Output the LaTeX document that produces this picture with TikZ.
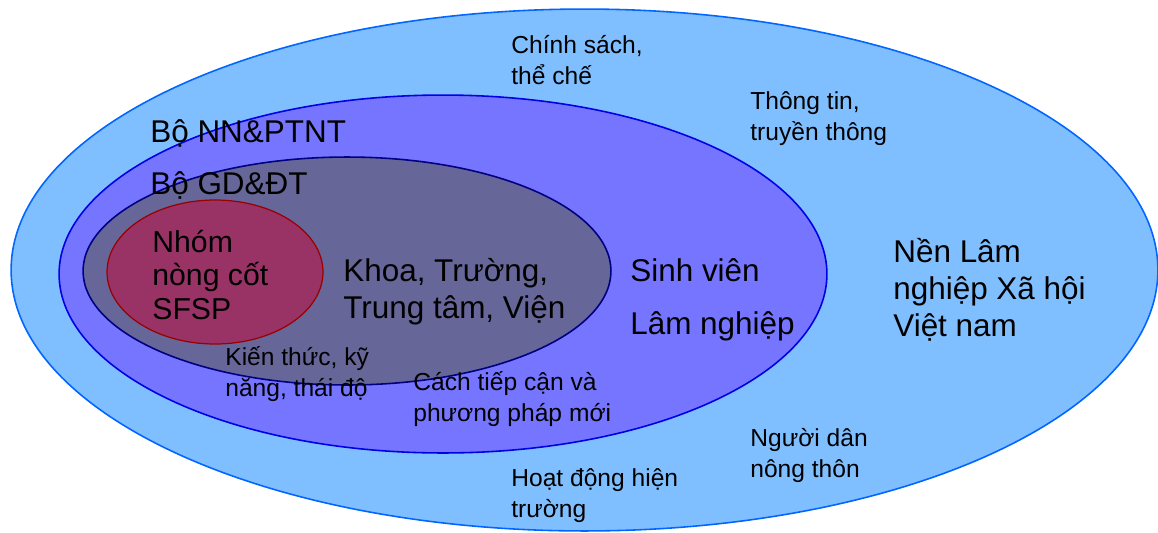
\documentclass[tikz,border=0pt]{standalone}
\usepackage{fontspec}
\setmainfont{Liberation Sans}
\usepackage{tikz}
\usetikzlibrary{positioning}

\definecolor{outerfill}{RGB}{128,191,255}
\definecolor{outerline}{RGB}{0,102,255}
\definecolor{midfill}{RGB}{117,117,255}
\definecolor{midline}{RGB}{0,0,230}
\definecolor{innerfill}{RGB}{102,102,153}
\definecolor{innerline}{RGB}{0,0,128}
\definecolor{corefill}{RGB}{153,51,102}
\definecolor{coreline}{RGB}{153,0,0}

\begin{document}
\begin{tikzpicture}[
    x=0.02cm, y=-0.02cm,
    ring/.style={line width=0.9pt},
    lbl/.style={anchor=base west, align=left, inner sep=0pt, font=\fontsize{14}{17.3}\selectfont},
    biglbl/.style={lbl, font=\fontsize{17.9}{21}\selectfont}
]
\useasboundingbox (0,0) rectangle (1158,532);

% Ellipses
\draw[ring, fill=outerfill, draw=outerline] (584.5,270) ellipse [x radius=11.47cm, y radius=5.22cm];
\draw[ring, fill=midfill, draw=midline] (443,274) ellipse [x radius=7.68cm, y radius=3.58cm];
\draw[ring, fill=innerfill, draw=innerline] (347,271) ellipse [x radius=5.28cm, y radius=2.28cm];
\draw[ring, line width=0.7pt, fill=corefill, draw=coreline] (215,272) ellipse [x radius=2.16cm, y radius=1.44cm];

% Labels (anchored on the baseline of their last line)
\node[lbl] (policy) at (511,84) {Chính sách,\\thể chế};
\node[lbl] (media) at (750,140) {Thông tin,\\truyền thông};
\node[biglbl] (ministry1) at (150,142) {Bộ NN\&PTNT};
\node[biglbl] (ministry2) at (150,194) {Bộ GD\&ĐT};
\node[biglbl, font=\fontsize{17.2}{19}\selectfont] (core) at (152,319) {Nhóm\\nòng cốt\\SFSP};
\node[biglbl] (faculty) at (343,318) {Khoa, Trường,\\Trung tâm, Viện};
\node[biglbl] (student) at (630,334) {Sinh viên\\[9pt]Lâm nghiệp};
\node[biglbl] (society) at (893,336) {Nền Lâm\\nghiệp Xã hội\\Việt nam};
\node[lbl] (skills) at (225,396) {Kiến thức, kỹ\\năng, thái độ};
\node[lbl] (approach) at (413,421) {Cách tiếp cận và\\phương pháp mới};
\node[lbl] (farmers) at (750,477) {Người dân\\nông thôn};
\node[lbl] (field) at (511,517) {Hoạt động hiện\\trường};

\end{tikzpicture}
\end{document}
